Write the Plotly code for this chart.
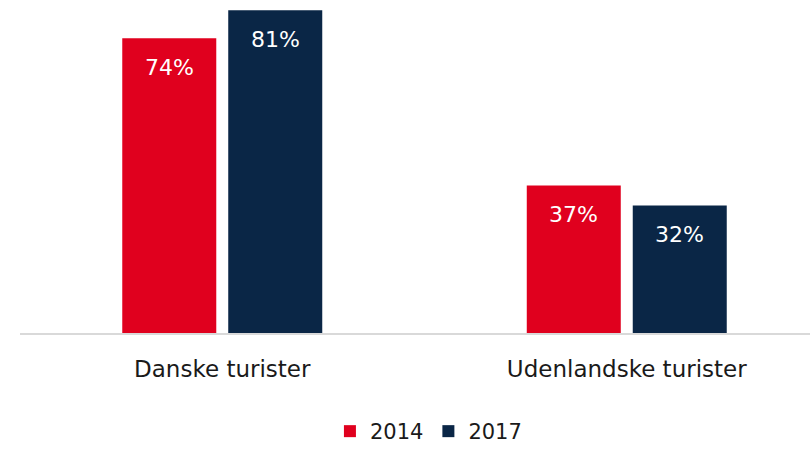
import plotly.graph_objects as go

categories = ["Danske turister", "Udenlandske turister"]
series_names = ["2014", "2017"]
values_2014 = [74, 37]
values_2017 = [81, 32]
colors = ["#E0001E", "#0A2646"]

FONT = "DejaVu Sans"

fig = go.Figure()
for name, vals, col in zip(series_names, [values_2014, values_2017], colors):
    fig.add_trace(go.Bar(x=categories, y=vals, name=name, marker_color=col,
                         marker_line_width=0, hoverinfo="skip"))

offsets = [-53, 53]
for vals, off in zip([values_2014, values_2017], offsets):
    for c, v in zip(categories, vals):
        fig.add_annotation(x=c, y=v, text=f"{v}%", showarrow=False, xshift=off, yshift=-29,
                           font=dict(family=FONT, size=22, color="white"))

fig.update_layout(
    width=810, height=452,
    margin=dict(l=20, r=0, t=0, b=112.5),
    plot_bgcolor="white", paper_bgcolor="white",
    barmode="group", bargap=0.476, bargroupgap=0.113,
    font=dict(family=FONT, size=21, color="#1a1a1a"),
    showlegend=True,
    legend=dict(orientation="h", x=0.517, xanchor="center", y=-0.297, yanchor="middle",
                font=dict(size=21), itemwidth=30, tracegroupgap=0),
    xaxis=dict(range=[-0.5, 1.453], showline=True, linecolor="#d9d9d9", linewidth=2,
               ticks="outside", ticklen=14, tickcolor="rgba(0,0,0,0)",
               tickfont=dict(size=23, color="#1a1a1a"), showgrid=False),
    yaxis=dict(range=[0, 83.6], visible=False, showgrid=False, zeroline=False),
)

fig.write_html("out.html", config={"displayModeBar": False},
               post_script="document.body.style.margin='0';document.body.style.overflow='hidden';")
